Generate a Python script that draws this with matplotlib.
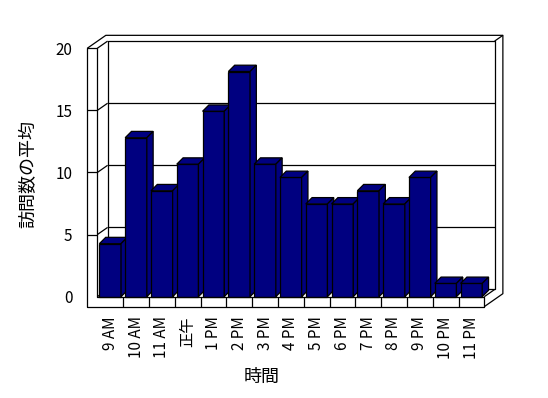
import numpy as np
import matplotlib
matplotlib.use('Agg')
import matplotlib.pyplot as plt
from matplotlib.patches import Polygon

plt.rcParams['font.family'] = ['Noto Sans CJK JP', 'DejaVu Sans']

hours = ['9 AM', '10 AM', '11 AM', '正午', '1 PM', '2 PM', '3 PM', '4 PM',
         '5 PM', '6 PM', '7 PM', '8 PM', '9 PM', '10 PM', '11 PM']
visits = [4.27, 12.8, 8.53, 10.67, 14.93, 18.13, 10.67, 9.6,
          7.47, 7.47, 8.53, 7.47, 9.6, 1.07, 1.07]
yticks = [0, 5, 10, 15, 20]

BAR = '#000080'
DX, DY = 0.40, 0.58      # one unit of box depth, in data units
ZOUT = 1.8               # outer face of the back wall
TX, TY = 0.39, 0.80      # thickness of left wall / floor
BDX, BDY = 0.245, 0.51   # bar depth
W = 0.84                 # bar width


def proj(x, y, z):
  return x + z * DX, y + z * DY


def line(ax, pts, zorder=1):
  xs, ys = zip(*pts)
  ax.plot(xs, ys, color='black', lw=0.9, clip_on=False, zorder=zorder,
          solid_capstyle='butt')


def draw_box(ax, n, top):
  x0, x1 = -0.5, n - 0.5
  # back wall gridlines and left wall gridlines
  for v in yticks[1:-1]:
    line(ax, [proj(x0, v, 1), proj(x1, v, 1)])
    line(ax, [(x0, v), proj(x0, v, 1)])
    line(ax, [(x0 - TX, v), (x0, v)])
  # back wall inner edges
  line(ax, [proj(x0, 0, 1), proj(x0, top, 1), proj(x1, top, 1), proj(x1, 0, 1), proj(x0, 0, 1)])
  line(ax, [(x0, 0), proj(x0, 0, 1)])
  line(ax, [(x1, 0), proj(x1, 0, 1)])
  # outer top / right
  line(ax, [(x0, top), proj(x0, top, 1)])
  line(ax, [(x0 - TX, top), proj(x0 - TX, top, ZOUT), proj(x1, top, ZOUT),
            proj(x1, -TY, ZOUT), (x1, -TY)])
  line(ax, [proj(x1, top, 1), proj(x1, top, ZOUT)])
  # front faces of left wall and floor
  line(ax, [(x0 - TX, -TY), (x0 - TX, top), (x0, top), (x0, 0), (x1, 0),
            (x1, -TY), (x0 - TX, -TY)], zorder=50)
  for i in range(1, n):
    line(ax, [(i - 0.5, 0), (i - 0.5, -TY)], zorder=50)


def draw_bars(ax, values):
  for i, v in enumerate(values):
    l, r = i - W / 2, i + W / 2
    z = 10 + i
    faces = [
      [(l, 0), (r, 0), (r, v), (l, v)],
      [(l, v), (r, v), (r + BDX, v + BDY), (l + BDX, v + BDY)],
      [(r, 0), (r + BDX, BDY), (r + BDX, v + BDY), (r, v)],
    ]
    for f in faces:
      ax.add_patch(Polygon(f, closed=True, facecolor=BAR, edgecolor='black',
                           lw=0.9, clip_on=False, zorder=z, joinstyle='miter'))


def main():
  fig = plt.figure(figsize=(5.48, 3.98), dpi=100)
  ax = fig.add_axes([97.3 / 548, (398 - 296.7) / 398, 387 / 548, 248.4 / 398])
  n = len(hours)
  ax.set_xlim(-0.5, n - 0.5)
  ax.set_ylim(0, 20)
  for s in ax.spines.values():
    s.set_visible(False)

  draw_box(ax, n, 20)
  draw_bars(ax, visits)

  ax.set_yticks(yticks)
  ax.set_yticklabels([str(t) for t in yticks], fontsize=11)
  ax.set_xticks(np.arange(n))
  ax.set_xticklabels(hours, rotation=90, fontsize=11)
  ax.tick_params(axis='y', length=0, pad=18)
  ax.tick_params(axis='x', length=0, pad=14)

  ax.set_xlabel('時間', fontsize=13)
  ax.xaxis.set_label_coords(0.425, -0.285)
  ax.set_ylabel('訪問数の平均', fontsize=13)
  ax.yaxis.set_label_coords(-0.156, 0.494)

  fig.savefig('out.png', dpi=100)


if __name__ == '__main__':
  main()
